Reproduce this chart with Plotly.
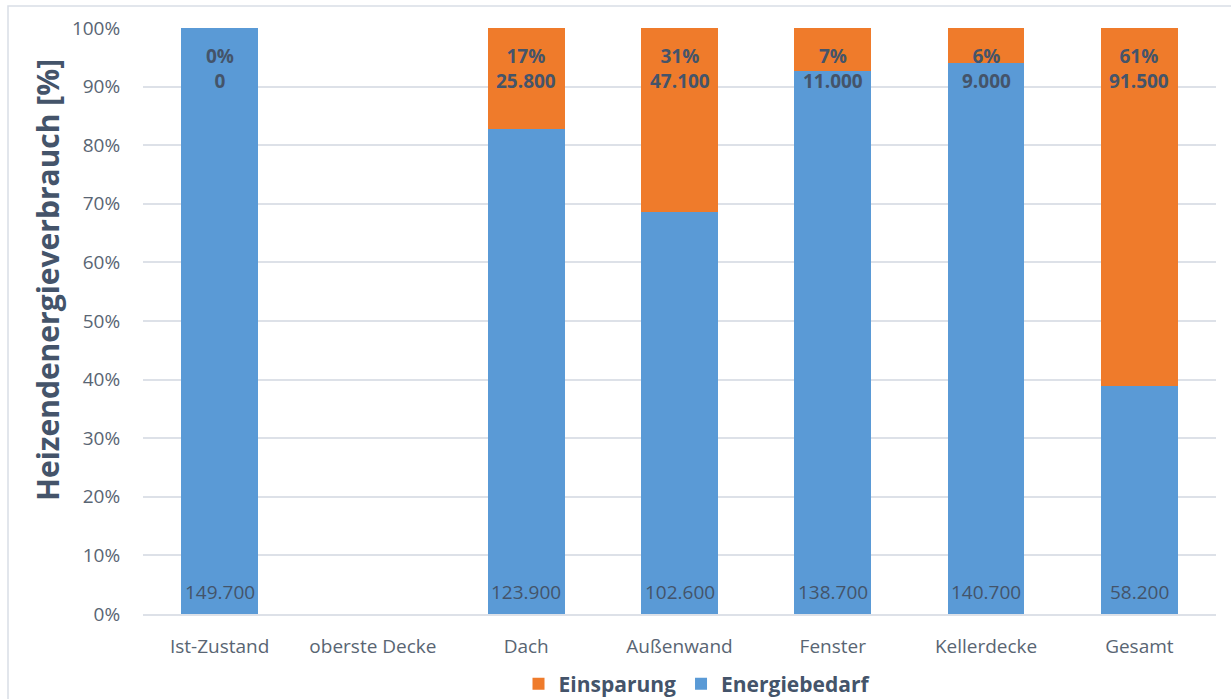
import plotly.graph_objects as go

categories = ["Ist-Zustand", "oberste Decke", "Dach", "Außenwand", "Fenster", "Kellerdecke", "Gesamt"]
energiebedarf = [149700, 0, 123900, 102600, 138700, 140700, 58200]
einsparung = [0, 0, 25800, 47100, 11000, 9000, 91500]
einsparung_pct = [0, None, 17, 31, 7, 6, 61]
y_ticks = list(range(0, 101, 10))

def fmt(v):
    return f"{v:,}".replace(",", ".")

W, H = 1231, 699
L, R, T, B = 143, 15, 28, 85
pw, ph = W - L - R, H - T - B

TEXT = "#44546A"
TICK = "#596573"
FONT = "Open Sans"

fig = go.Figure()
fig.add_trace(go.Bar(
    x=categories, y=energiebedarf, name="Energiebedarf",
    marker=dict(color="#5A9AD6", line=dict(width=0)),
    textposition="none",
))
fig.add_trace(go.Bar(
    x=categories, y=einsparung, name="Einsparung",
    marker=dict(color="#EF7B2B", line=dict(width=0)),
    textposition="none",
))

for c, p, v, e in zip(categories, einsparung_pct, einsparung, energiebedarf):
    if p is None:
        continue
    fig.add_annotation(x=c, y=100, yref="y", xref="x", yanchor="top", yshift=-13,
                       text=f"<b>{p}%</b><br><b>{fmt(v)}</b>", showarrow=False,
                       font=dict(family=FONT, size=19, color=TEXT), align="center")
    fig.add_annotation(x=c, y=0, yref="y", xref="x", yanchor="middle", yshift=22,
                       text=fmt(e), showarrow=False,
                       font=dict(family=FONT, size=19, color=TEXT), align="center")

# y-axis title
fig.add_annotation(xref="paper", yref="paper", x=(47 - L) / pw, y=(614 - 280) / ph,
                   xanchor="center", yanchor="middle", textangle=-90, showarrow=False,
                   text="<b>Heizendenergieverbrauch [%]</b>",
                   font=dict(family=FONT, size=30, color=TEXT))

# chart frame
fig.add_shape(type="rect", xref="paper", yref="paper",
              x0=(8 - L) / pw, x1=(W + 10 - L) / pw,
              y0=-(H + 10 - T - ph) / ph, y1=1 + (T - 6) / ph,
              line=dict(color="#D9DEE6", width=1.5), fillcolor="rgba(0,0,0,0)", layer="below")

fig.update_layout(
    barmode="stack", barnorm="percent", bargap=0.5,
    width=W, height=H,
    margin=dict(l=L, r=R, t=T, b=B, pad=0, autoexpand=False),
    paper_bgcolor="white", plot_bgcolor="white",
    font=dict(family=FONT, color=TEXT),
    showlegend=True,
    legend=dict(orientation="h", x=(697 - L) / pw, xanchor="center", y=-(684 - 614) / ph, yanchor="middle",
                traceorder="reversed", font=dict(family=FONT, size=21, color=TEXT, weight="bold"),
                itemwidth=30),
    yaxis=dict(range=[0, 100], tickvals=y_ticks, ticktext=[f"{t}%" for t in y_ticks],
               showgrid=True, gridcolor="#DDE1E8", gridwidth=1.5, zeroline=False,
               automargin=False,
               tickfont=dict(family=FONT, size=19, color=TICK), ticks="outside", ticklen=18,
               tickcolor="rgba(0,0,0,0)"),
    xaxis=dict(showline=True, linecolor="#DDE1E8", linewidth=1.5, automargin=False,
               tickfont=dict(family=FONT, size=19, color=TICK), ticks="outside", ticklen=14,
               tickcolor="rgba(0,0,0,0)"),
)

fig.write_html("out.html", config={"displayModeBar": False},
               post_script="document.body.style.margin='0';document.body.style.overflow='hidden';")
